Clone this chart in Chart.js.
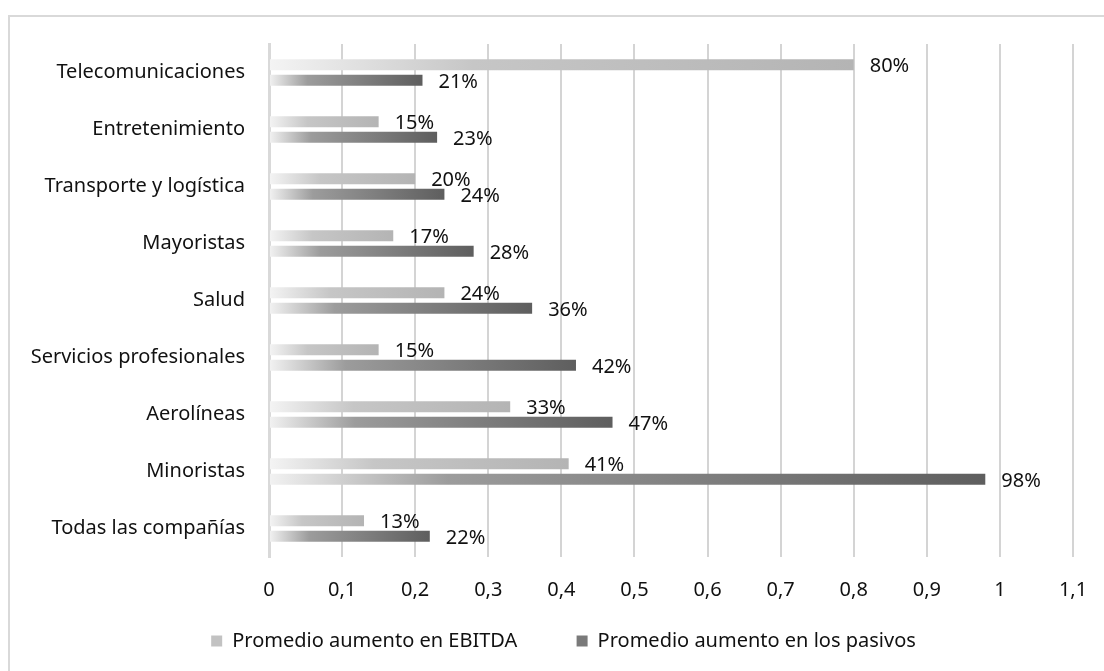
<!DOCTYPE html>
<html>
<head>
<meta charset="utf-8">
<script src="https://cdn.jsdelivr.net/npm/chart.js@4.4.1/dist/chart.umd.min.js"></script>
<style>
    html, body { margin: 0; padding: 0; background: #fff; overflow: hidden; }
    #wrap { position: relative; width: 1104px; height: 671px; }
    #frame { position: absolute; left: 8px; top: 15px; width: 1110px; height: 700px; border: 2px solid #d9d9d9; pointer-events: none; }
</style>
</head>
<body>
<div id="wrap">
    <canvas id="chart" width="1104" height="671"></canvas>
    <div id="frame"></div>
</div>
<script>
const categories = [
    'Telecomunicaciones',
    'Entretenimiento',
    'Transporte y logística',
    'Mayoristas',
    'Salud',
    'Servicios profesionales',
    'Aerolíneas',
    'Minoristas',
    'Todas las compañías'
]
const seriesNames = ['Promedio aumento en EBITDA', 'Promedio aumento en los pasivos']
const ebitda = [0.80, 0.15, 0.20, 0.17, 0.24, 0.15, 0.33, 0.41, 0.13]
const pasivos = [0.21, 0.23, 0.24, 0.28, 0.36, 0.42, 0.47, 0.98, 0.22]
const xTicks = { min: 0, max: 1.1, step: 0.1 }

const fontFamily = '"Noto Sans", "Open Sans", sans-serif'
const fontSize = 20
const textColor = '#111'

const lightStops = [[0, '#f4f4f4'], [0.35, '#c6c6c6'], [1, '#b4b4b4']]
const darkStops = [[0, '#f2f2f2'], [0.25, '#9c9c9c'], [1, '#5e5e5e']]
const legendColors = ['#c2c2c2', '#7a7a7a']

// each bar gets its own gradient, from the axis to the end of the bar
function barGradient(ctx, stops) {
    const chart = ctx.chart
    if (!chart.chartArea || ctx.type !== 'data') return stops[stops.length - 1][1]
    const x = chart.scales.x
    const x0 = x.getPixelForValue(0)
    const x1 = x.getPixelForValue(ctx.raw)
    const g = chart.ctx.createLinearGradient(x0, 0, Math.max(x1, x0 + 1), 0)
    stops.forEach(s => g.addColorStop(s[0], s[1]))
    return g
}

const valueLabels = {
    id: 'valueLabels',
    afterDatasetsDraw(chart) {
        const ctx = chart.ctx
        ctx.save()
        ctx.font = fontSize + 'px ' + fontFamily
        ctx.fillStyle = textColor
        ctx.textAlign = 'left'
        ctx.textBaseline = 'middle'
        chart.data.datasets.forEach((dataset, i) => {
            chart.getDatasetMeta(i).data.forEach((bar, j) => {
                const v = dataset.data[j]
                ctx.fillText(Math.round(v * 100) + '%', bar.x + 16, bar.y + 2)
            })
        })
        ctx.restore()
    }
}

// legend sits a bit right of the centre in the original
const legendShift = {
    id: 'legendShift',
    afterLayout(chart) {
        chart.legend.left += 46
    }
}

const ctx = document.getElementById('chart').getContext('2d')

const chart = new Chart(ctx, {
    type: 'bar',
    plugins: [valueLabels, legendShift],
    data: {
        labels: categories,
        datasets: [{
            label: seriesNames[0],
            data: ebitda,
            backgroundColor: (c) => barGradient(c, lightStops),
            categoryPercentage: 0.545,
            barPercentage: 0.71
        }, {
            label: seriesNames[1],
            data: pasivos,
            backgroundColor: (c) => barGradient(c, darkStops),
            categoryPercentage: 0.545,
            barPercentage: 0.71
        }]
    },
    options: {
        indexAxis: 'y',
        responsive: false,
        animation: false,
        layout: {
            padding: { left: 8, right: 31, top: 44, bottom: 10 }
        },
        scales: {
            x: {
                min: xTicks.min,
                max: xTicks.max,
                afterFit: (scale) => { scale.height = 48 },
                grid: {
                    color: '#d4d4d4',
                    lineWidth: 2,
                    drawTicks: true,
                    tickLength: 9,
                    tickColor: 'rgba(0,0,0,0)'
                },
                border: { display: false },
                ticks: {
                    stepSize: xTicks.step,
                    padding: 12,
                    color: textColor,
                    font: { family: fontFamily, size: fontSize },
                    callback: (v) => String(Math.round(v * 10) / 10).replace('.', ',')
                }
            },
            y: {
                afterFit: (scale) => { scale.width = 261 },
                grid: { display: false },
                border: { display: true, color: '#d9d9d9', width: 3 },
                ticks: {
                    padding: 16,
                    color: textColor,
                    font: { family: fontFamily, size: fontSize }
                }
            }
        },
        plugins: {
            tooltip: { enabled: false },
            legend: {
                position: 'bottom',
                labels: {
                    boxWidth: 11,
                    boxHeight: 11,
                    padding: 26,
                    color: textColor,
                    font: { family: fontFamily, size: fontSize },
                    generateLabels: function (chart) {
                        const items = Chart.defaults.plugins.legend.labels.generateLabels(chart)
                        items.forEach((item, i) => {
                            item.fillStyle = legendColors[i]
                            item.strokeStyle = legendColors[i]
                            item.lineWidth = 0
                        })
                        // wider gap after the first entry
                        items[0].text = items[0].text + '\u2002\u2002\u2002\u2009'
                        return items
                    }
                }
            }
        }
    }
})
</script>
</body>
</html>
